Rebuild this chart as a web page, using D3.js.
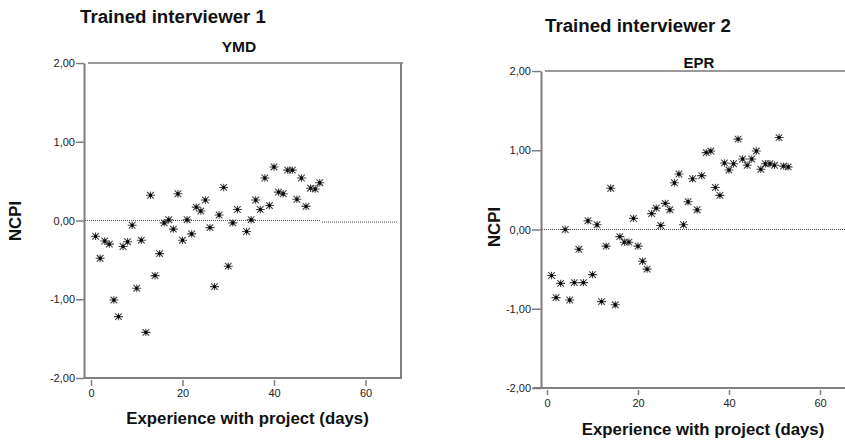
<!DOCTYPE html>
<html>
<head>
<meta charset="utf-8">
<script src="https://cdn.jsdelivr.net/npm/d3@7"></script>
<style>
  html, body { margin: 0; padding: 0; background: #fff; }
  svg { display: block; font-family: "Liberation Sans", Arial, sans-serif; }
</style>
</head>
<body>
<svg id="chart" width="845" height="443"></svg>
<script>
// NCPI per day of project experience, one series per interviewer
const ymdDays = [1,2,3,4,5,6,7,8,9,10,11,12,13,14,15,16,17,18,19,20,21,22,23,24,25,26,27,28,29,30,31,32,34,35,36,37,38,39,40,41,42,43,44,45,46,47,48,49,50];
const ymdNcpi = [-0.20,-0.48,-0.26,-0.30,-1.01,-1.22,-0.33,-0.27,-0.06,-0.86,-0.25,-1.42,0.32,-0.70,-0.42,-0.03,0.01,-0.11,0.34,-0.25,0.01,-0.17,0.17,0.12,0.26,-0.09,-0.84,0.07,0.42,-0.58,-0.03,0.14,-0.14,0.01,0.26,0.14,0.54,0.19,0.68,0.36,0.34,0.64,0.64,0.27,0.54,0.18,0.41,0.40,0.48];

const eprDays = [1,2,3,4,5,6,7,8,9,10,11,12,13,14,15,16,17,18,19,20,21,22,23,24,25,26,27,28,29,30,31,32,33,34,35,36,37,38,39,40,41,42,43,44,45,46,47,48,49,50,51,52,53];
const eprNcpi = [-0.58,-0.86,-0.68,0.00,-0.89,-0.67,-0.25,-0.67,0.11,-0.57,0.06,-0.91,-0.21,0.52,-0.95,-0.09,-0.16,-0.16,0.14,-0.21,-0.40,-0.50,0.20,0.27,0.05,0.33,0.25,0.59,0.70,0.06,0.35,0.64,0.25,0.68,0.97,0.99,0.53,0.43,0.84,0.75,0.83,1.14,0.89,0.81,0.89,0.99,0.76,0.83,0.83,0.81,1.16,0.80,0.79];

const yTicks = [-2, -1, 0, 1, 2];
const xTicks = [0, 20, 40, 60];
const panelTitles = ["Trained interviewer 1", "Trained interviewer 2"];
const panelCodes = ["YMD", "EPR"];
const xLabel = "Experience with project (days)";
const yLabel = "NCPI";

// Decimal comma formatting for the value axis
const locale = d3.formatLocale({decimal: ",", thousands: ".", grouping: [3], currency: ["", ""], minus: "-"});
const fmt = locale.format(".2f");

const svg = d3.select("#chart");
const AXIS = "#7f7f7f";
const FRAME = "#333";

// Small asterisk marker
function star(g, x, y) {
  const r = 4.5, d = 3.3;
  g.append("path")
    .attr("d", `M${x - r},${y}L${x + r},${y}M${x - d},${y - d}L${x + d},${y + d}M${x - d},${y + d}L${x + d},${y - d}M${x},${y - r + 0.8}L${x},${y + r - 0.8}`)
    .attr("stroke", "#444").attr("stroke-width", 1.1).attr("fill", "none");
  g.append("rect").attr("x", x - 1.4).attr("y", y - 1.4).attr("width", 2.8).attr("height", 2.8).attr("fill", "#000");
}

function panel(cfg) {
  const g = svg.append("g");
  const x = d3.scaleLinear().domain([0, 60]).range(cfg.xRange);
  const y = d3.scaleLinear().domain([-2, 2]).range(cfg.yRange);
  const [top, bottom] = [y(2), y(-2)];

  // Titles
  g.append("text").attr("x", cfg.titleX).attr("y", cfg.titleY)
    .attr("font-size", 18.7).attr("font-weight", "bold").attr("fill", "#111").text(cfg.title);
  g.append("text").attr("x", cfg.codeX).attr("y", cfg.codeY).attr("text-anchor", "middle")
    .attr("font-size", cfg.codeSize).attr("font-weight", "bold").attr("fill", "#111").text(cfg.code);

  // Frame: top and right edges
  g.append("line").attr("x1", cfg.axisX + 4).attr("x2", cfg.frameRight + 2).attr("y1", top).attr("y2", top)
    .attr("stroke", FRAME).attr("stroke-width", 1);
  if (cfg.showRight) {
    g.append("line").attr("x1", cfg.frameRight).attr("x2", cfg.frameRight).attr("y1", top).attr("y2", bottom)
      .attr("stroke", AXIS).attr("stroke-width", 2);
  }
  // Bottom edge
  g.append("line").attr("x1", cfg.bottomStart).attr("x2", cfg.frameRight + 1).attr("y1", bottom).attr("y2", bottom)
    .attr("stroke", AXIS).attr("stroke-width", 2);

  // Value axis
  const ya = g.append("g").attr("transform", `translate(${cfg.axisX},0)`)
    .call(d3.axisLeft(y).tickValues(yTicks).tickFormat(fmt).tickSize(cfg.yTickSize).tickPadding(1).tickSizeOuter(0));
  ya.select(".domain").attr("stroke", AXIS).attr("stroke-width", 2);
  ya.selectAll(".tick line").attr("stroke", AXIS).attr("stroke-width", 1.5);
  ya.selectAll(".tick text").attr("font-size", 11).attr("fill", "#222").attr("font-family", "Liberation Sans, Arial, sans-serif");

  // Day axis
  const xa = g.append("g").attr("transform", `translate(0,${bottom + cfg.xTickGap})`)
    .call(d3.axisBottom(x).tickValues(xTicks).tickFormat(d3.format("d")).tickSize(cfg.xTickSize).tickPadding(cfg.xPad).tickSizeOuter(0));
  xa.select(".domain").remove();
  xa.selectAll(".tick line").attr("stroke", AXIS).attr("stroke-width", 1.5);
  xa.selectAll(".tick text").attr("font-size", 11).attr("fill", "#222").attr("font-family", "Liberation Sans, Arial, sans-serif");

  // Zero reference line(s)
  cfg.zeroSegments.forEach(s => {
    g.append("line").attr("x1", s[0]).attr("x2", s[1]).attr("y1", y(0) + s[2]).attr("y2", y(0) + s[2])
      .attr("stroke", "#444").attr("stroke-width", 1).attr("stroke-dasharray", "1,1");
  });

  // Points
  const pts = g.append("g");
  cfg.days.forEach((d, i) => star(pts, x(d), y(cfg.values[i])));

  // Axis titles
  g.append("text").attr("x", cfg.xLabelX).attr("y", cfg.xLabelY).attr("text-anchor", "middle")
    .attr("font-size", 16.8).attr("font-weight", "bold").attr("fill", "#111").text(xLabel);
  g.append("text").attr("transform", `translate(${cfg.yLabelX},${cfg.yLabelY}) rotate(-90)`)
    .attr("text-anchor", "middle").attr("font-size", 16.8).attr("font-weight", "bold").attr("fill", "#111").text(yLabel);
}

panel({
  title: panelTitles[0], titleX: 80, titleY: 22.7,
  code: panelCodes[0], codeX: 239, codeY: 52, codeSize: 15.5,
  xRange: [91, 91 + 60 * 4.575], yRange: [378, 63],
  axisX: 84, frameRight: 401, showRight: true, bottomStart: 84,
  yTickSize: 8, xTickGap: 2, xTickSize: 6, xPad: 3,
  zeroSegments: [[85, 320, 0], [322, 398, 1.5]],
  days: ymdDays, values: ymdNcpi,
  xLabelX: 247.5, xLabelY: 424, yLabelX: 21, yLabelY: 221
});

panel({
  title: panelTitles[1], titleX: 545, titleY: 32,
  code: panelCodes[1], codeX: 699, codeY: 68, codeSize: 15,
  xRange: [547, 820], yRange: [388, 71],
  axisX: 541, frameRight: 846, showRight: false, bottomStart: 533,
  yTickSize: 9, xTickGap: 2, xTickSize: 5, xPad: 4,
  zeroSegments: [[542, 845, 0]],
  days: eprDays, values: eprNcpi,
  xLabelX: 703, xLabelY: 435, yLabelX: 500, yLabelY: 227
});
</script>
</body>
</html>
